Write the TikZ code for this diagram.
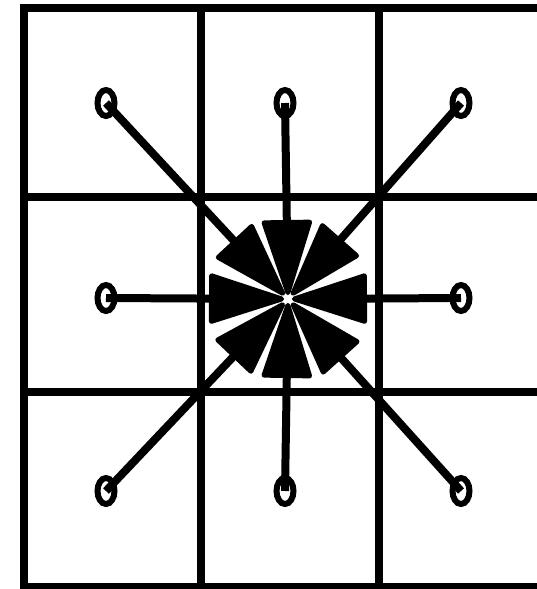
\documentclass[tikz,border=0pt]{standalone}
\usetikzlibrary{arrows.meta,shapes.geometric}
\tikzset{
  gridline/.style={line width=0.15cm},
  src/.style={draw, ellipse, line width=0.12cm, minimum width=0.34cm, minimum height=0.52cm, inner sep=0pt},
  flow/.style={line width=0.16cm, -{Triangle[length=1.62cm, width=1.02cm, line width=0.1cm, round]}},
}
\begin{document}
\begin{tikzpicture}[x=0.02cm, y=-0.02cm]
  \useasboundingbox (0,0) rectangle (537,589);
  \clip (0,0) rectangle (537,589);
  % grid, open on the right
  \foreach \gx in {24,201,379} \draw[gridline] (\gx,8) -- (\gx,587);
  \foreach \gy in {8,197,392,587} \draw[gridline] (20,\gy) -- (545,\gy);
  % neighbours
  \node[src] (nw) at (106,103) {};
  \node[src] (n)  at (285,103) {};
  \node[src] (ne) at (461,103) {};
  \node[src] (w)  at (106,298) {};
  \node[src] (e)  at (461,298) {};
  \node[src] (sw) at (106,491) {};
  \node[src] (s)  at (285,491) {};
  \node[src] (se) at (461,491) {};
  % centre cell
  \node[minimum size=0.14cm, inner sep=0pt] (c) at (288,299) {};
  \foreach \nb in {nw,n,ne,w,e,sw,s,se}
    \draw[flow] (\nb.center) -- (c);
  \node[fill=white, minimum size=0.14cm, inner sep=0pt] (hole) at (c) {};
\end{tikzpicture}
\end{document}
